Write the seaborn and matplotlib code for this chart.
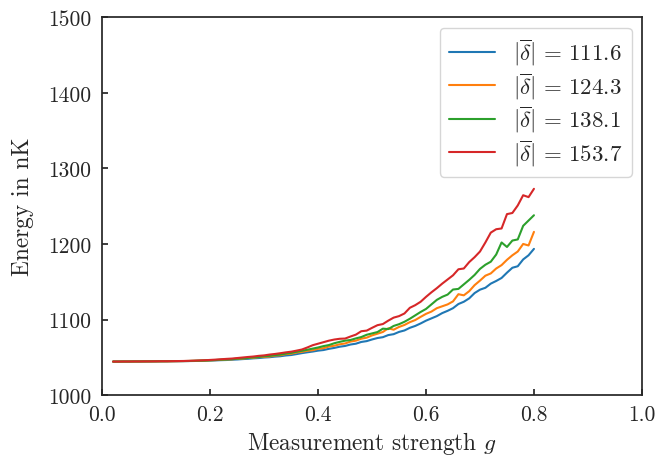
import numpy as np
import pandas as pd
import matplotlib
matplotlib.use("Agg")
import matplotlib.pyplot as plt
import seaborn as sns

g = [0.02, 0.03, 0.04, 0.05, 0.06, 0.07, 0.08, 0.09, 0.10, 0.11,
     0.12, 0.13, 0.14, 0.15, 0.16, 0.17, 0.18, 0.19, 0.20, 0.21,
     0.22, 0.23, 0.24, 0.25, 0.26, 0.27, 0.28, 0.29, 0.30, 0.31,
     0.32, 0.33, 0.34, 0.35, 0.36, 0.37, 0.38, 0.39, 0.40, 0.41,
     0.42, 0.43, 0.44, 0.45, 0.46, 0.47, 0.48, 0.49, 0.50, 0.51,
     0.52, 0.53, 0.54, 0.55, 0.56, 0.57, 0.58, 0.59, 0.60, 0.61,
     0.62, 0.63, 0.64, 0.65, 0.66, 0.67, 0.68, 0.69, 0.70, 0.71,
     0.72, 0.73, 0.74, 0.75, 0.76, 0.77, 0.78, 0.79, 0.80]

energy_111_6 = [1044.3, 1044.4, 1044.4, 1044.4, 1044.5, 1044.5, 1044.5, 1044.6, 1044.6, 1044.7,
                1044.7, 1044.8, 1044.8, 1044.9, 1045.0, 1045.1, 1045.3, 1045.5, 1045.7, 1045.9,
                1046.2, 1046.4, 1046.8, 1047.1, 1047.6, 1048.0, 1048.6, 1049.0, 1049.7, 1050.1,
                1050.9, 1051.4, 1052.4, 1053.0, 1054.2, 1055.5, 1056.6, 1057.6, 1058.8, 1059.6,
                1061.2, 1062.4, 1064.0, 1065.0, 1066.9, 1068.0, 1070.3, 1071.4, 1073.6, 1075.5,
                1076.6, 1079.4, 1080.6, 1083.6, 1085.5, 1089.0, 1091.5, 1094.8, 1098.5, 1101.5,
                1104.5, 1108.5, 1111.5, 1115.0, 1120.5, 1123.5, 1128.0, 1135.0, 1139.5, 1142.0,
                1147.5, 1151.0, 1155.0, 1162.0, 1168.5, 1170.5, 1179.5, 1185.0, 1193.5]

energy_124_3 = [1044.3, 1044.3, 1044.4, 1044.4, 1044.4, 1044.5, 1044.5, 1044.6, 1044.6, 1044.7,
                1044.7, 1044.8, 1044.9, 1045.0, 1045.1, 1045.3, 1045.5, 1045.7, 1046.0, 1046.3,
                1046.6, 1047.1, 1047.3, 1048.0, 1048.2, 1049.1, 1049.3, 1050.2, 1050.6, 1051.0,
                1052.3, 1052.7, 1054.2, 1054.7, 1056.3, 1057.2, 1058.6, 1059.4, 1061.2, 1062.0,
                1064.2, 1065.3, 1067.2, 1068.3, 1070.8, 1072.0, 1074.6, 1076.0, 1079.0, 1081.2,
                1083.5, 1088.4, 1086.5, 1090.2, 1092.8, 1096.5, 1099.3, 1103.5, 1107.5, 1110.5,
                1115.0, 1117.5, 1120.0, 1124.0, 1133.5, 1132.0, 1137.5, 1145.5, 1151.5, 1158.0,
                1161.0, 1167.5, 1172.0, 1179.0, 1185.0, 1190.0, 1200.0, 1198.0, 1216.0]

energy_138_1 = [1044.3, 1044.3, 1044.4, 1044.4, 1044.5, 1044.5, 1044.6, 1044.6, 1044.7, 1044.7,
                1044.8, 1044.9, 1045.0, 1045.0, 1045.1, 1045.3, 1045.5, 1045.7, 1046.0, 1046.4,
                1046.8, 1047.2, 1047.5, 1048.1, 1048.6, 1049.2, 1049.9, 1050.4, 1051.4, 1051.9,
                1052.9, 1053.6, 1054.9, 1055.8, 1057.3, 1058.6, 1060.0, 1061.5, 1063.0, 1064.8,
                1066.2, 1068.6, 1070.4, 1072.0, 1072.9, 1075.0, 1076.8, 1079.8, 1081.6, 1083.4,
                1087.9, 1087.3, 1091.5, 1093.8, 1097.0, 1101.0, 1105.5, 1110.0, 1114.0, 1120.0,
                1126.0, 1130.0, 1133.0, 1139.7, 1140.5, 1146.5, 1152.5, 1159.0, 1167.0, 1172.5,
                1176.5, 1186.0, 1202.0, 1196.0, 1204.5, 1206.0, 1224.0, 1231.0, 1238.0]

energy_153_7 = [1044.3, 1044.3, 1044.4, 1044.4, 1044.5, 1044.5, 1044.6, 1044.6, 1044.7, 1044.8,
                1044.8, 1044.9, 1045.0, 1045.1, 1045.3, 1045.5, 1045.8, 1046.1, 1046.5, 1046.9,
                1047.4, 1047.9, 1048.3, 1049.0, 1049.7, 1050.4, 1051.0, 1051.9, 1052.5, 1053.6,
                1054.4, 1055.4, 1056.5, 1057.4, 1058.8, 1060.3, 1063.0, 1066.0, 1068.0, 1070.0,
                1072.0, 1073.5, 1074.5, 1074.8, 1077.5, 1080.0, 1084.5, 1085.3, 1089.0, 1092.5,
                1094.0, 1098.5, 1102.5, 1104.5, 1108.0, 1115.5, 1119.0, 1123.5, 1130.0, 1136.0,
                1141.5, 1147.5, 1153.0, 1158.5, 1166.5, 1167.5, 1176.0, 1182.5, 1190.0, 1202.0,
                1215.0, 1219.5, 1220.5, 1239.5, 1241.0, 1251.0, 1264.5, 1262.0, 1273.0]

labels = [r"$|\overline{\delta}|\,=\,111.6$", r"$|\overline{\delta}|\,=\,124.3$",
          r"$|\overline{\delta}|\,=\,138.1$", r"$|\overline{\delta}|\,=\,153.7$"]
series = [energy_111_6, energy_124_3, energy_138_1, energy_153_7]

frames = []
for lab, vals in zip(labels, series):
    frames.append(pd.DataFrame({"g": g, "E": vals, "delta": lab}))
df = pd.concat(frames, ignore_index=True)

sns.set_style("ticks")
plt.rcParams.update({
    "font.family": "serif",
    "font.serif": ["cmr10"],
    "mathtext.fontset": "cm",
    "axes.formatter.use_mathtext": True,
    "font.size": 15,
    "axes.linewidth": 1.25,
    "xtick.direction": "in",
    "ytick.direction": "in",
    "xtick.major.size": 4.5,
    "ytick.major.size": 4.5,
    "xtick.major.width": 1.25,
    "ytick.major.width": 1.25,
    "axes.unicode_minus": False,
})

fig = plt.figure(figsize=(6.7, 4.6), dpi=100)
ax = fig.add_axes([0.1527, 0.139, 0.8053, 0.8212])

palette = ["#1f77b4", "#ff7f0e", "#2ca02c", "#d62728"]
sns.lineplot(data=df, x="g", y="E", hue="delta", palette=palette,
             linewidth=1.5, ax=ax, legend=True)

ax.set_xlim(0.0, 1.0)
ax.set_ylim(1000, 1500)
ax.set_xticks([0.0, 0.2, 0.4, 0.6, 0.8, 1.0])
ax.set_xticklabels(["0.0", "0.2", "0.4", "0.6", "0.8", "1.0"])
ax.set_yticks([1000, 1100, 1200, 1300, 1400, 1500])
ax.set_yticklabels(["1000", "1100", "1200", "1300", "1400", "1500"])
ax.set_xlabel(r"Measurement strength $g$", fontsize=16.8, labelpad=3.5)
ax.set_ylabel("Energy in nK", fontsize=16.8, labelpad=10)
ax.tick_params(axis="x", labelsize=15.5, pad=7)
ax.tick_params(axis="y", labelsize=15.5, pad=8)

leg = ax.legend(loc="upper right", frameon=True, fontsize=16.5,
                labelspacing=0.12, handlelength=2.0, handletextpad=0.8,
                borderpad=0.4, borderaxespad=0.45)
leg.get_frame().set_edgecolor("#cccccc")
leg.get_frame().set_linewidth(1.0)

fig.savefig("out.png", dpi=100)
